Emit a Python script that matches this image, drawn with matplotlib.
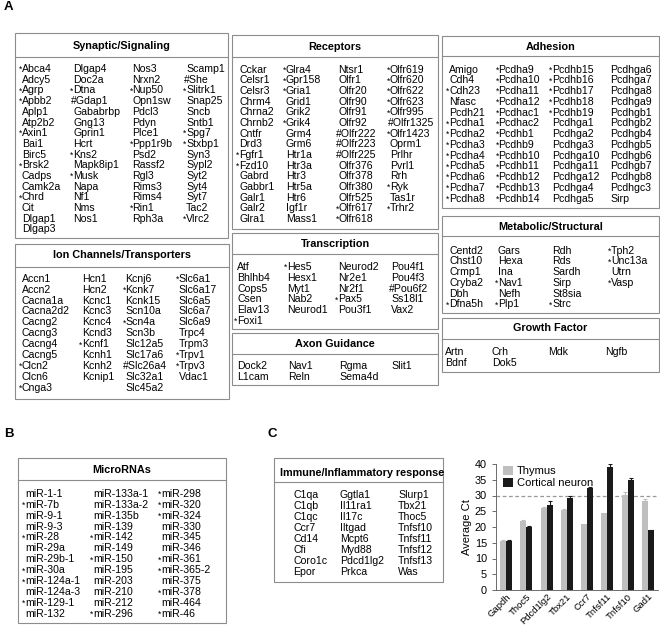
import matplotlib
matplotlib.use("Agg")
import matplotlib.pyplot as plt
from matplotlib.patches import Rectangle, Patch
import numpy as np

plt.rcParams['font.family'] = ['Liberation Sans', 'DejaVu Sans']

# ====================== DATA ======================
synaptic_cols = [
    ['*Abca4', 'Adcy5', '*Agrp', '*Apbb2', 'Aplp1', 'Atp2b2', '*Axin1', 'Bai1', 'Birc5',
     '*Brsk2', 'Cadps', 'Camk2a', '*Chrd', 'Cit', 'Dlgap1', 'Dlgap3'],
    ['Dlgap4', 'Doc2a', '*Dtna', '#Gdap1', 'Gababrbp', 'Gng13', 'Gprin1', 'Hcrt', '*Kns2',
     'Mapk8ip1', '*Musk', 'Napa', 'Nf1', 'Nms', 'Nos1'],
    ['Nos3', 'Nrxn2', '*Nup50', 'Opn1sw', 'Pdcl3', 'Pdyn', 'Plce1', '*Ppp1r9b', 'Psd2',
     'Rassf2', 'Rgl3', 'Rims3', 'Rims4', '*Rin1', 'Rph3a'],
    ['Scamp1', '#She', '*Slitrk1', 'Snap25', 'Sncb', 'Sntb1', '*Spg7', '*Stxbp1', 'Syn3',
     'Sypl2', 'Syt2', 'Syt4', 'Syt7', 'Tac2', '*Vlrc2'],
]
receptor_cols = [
    ['Cckar', 'Celsr1', 'Celsr3', 'Chrm4', 'Chrna2', 'Chrnb2', 'Cntfr', 'Drd3', '*Fgfr1',
     '*Fzd10', 'Gabrd', 'Gabbr1', 'Galr1', 'Galr2', 'Glra1'],
    ['*Glra4', '*Gpr158', '*Gria1', 'Grid1', 'Grik2', '*Grik4', 'Grm4', 'Grm6', 'Htr1a',
     'Htr3a', 'Htr3', 'Htr5a', 'Htr6', 'Igf1r', 'Mass1'],
    ['Ntsr1', 'Olfr1', 'Olfr20', 'Olfr90', 'Olfr91', 'Olfr92', '#Olfr222', '#Olfr223',
     '#Olfr225', 'Olfr376', 'Olfr378', 'Olfr380', 'Olfr525', '*Olfr617', '*Olfr618'],
    ['*Olfr619', '*Olfr620', '*Olfr622', '*Olfr623', '*Olfr995', '#Olfr1325', '*Olfr1423',
     'Oprm1', 'Prlhr', 'Pvrl1', 'Rrh', '*Ryk', 'Tas1r', '*Trhr2'],
]
adhesion_cols = [
    ['Amigo', 'Cdh4', '*Cdh23', 'Nfasc', 'Pcdh21', '*Pcdha1', '*Pcdha2', '*Pcdha3',
     '*Pcdha4', '*Pcdha5', '*Pcdha6', '*Pcdha7', '*Pcdha8'],
    ['*Pcdha9', '*Pcdha10', '*Pcdha11', '*Pcdha12', '*Pcdhac1', '*Pcdhac2', '*Pcdhb1',
     '*Pcdhb9', '*Pcdhb10', '*Pcdhb11', '*Pcdhb12', '*Pcdhb13', '*Pcdhb14'],
    ['*Pcdhb15', '*Pcdhb16', '*Pcdhb17', '*Pcdhb18', '*Pcdhb19', 'Pcdhga1', 'Pcdhga2',
     'Pcdhga3', 'Pcdhga10', 'Pcdhga11', 'Pcdhga12', 'Pcdhga4', 'Pcdhga5'],
    ['Pcdhga6', 'Pcdhga7', 'Pcdhga8', 'Pcdhga9', 'Pcdhgb1', 'Pcdhgb2', 'Pcdhgb4',
     'Pcdhgb5', 'Pcdhgb6', 'Pcdhgb7', 'Pcdhgb8', 'Pcdhgc3', 'Sirp'],
]
ion_cols = [
    ['Accn1', 'Accn2', 'Cacna1a', 'Cacna2d2', 'Cacng2', 'Cacng3', 'Cacng4', 'Cacng5',
     '*Clcn2', 'Clcn6', '*Cnga3'],
    ['Hcn1', 'Hcn2', 'Kcnc1', 'Kcnc3', 'Kcnc4', 'Kcnd3', '*Kcnf1', 'Kcnh1', 'Kcnh2', 'Kcnip1'],
    ['Kcnj6', '*Kcnk7', 'Kcnk15', 'Scn10a', '*Scn4a', 'Scn3b', 'Slc12a5', 'Slc17a6',
     '#Slc26a4', 'Slc32a1', 'Slc45a2'],
    ['*Slc6a1', 'Slc6a17', 'Slc6a5', 'Slc6a7', 'Slc6a9', 'Trpc4', 'Trpm3', '*Trpv1',
     '*Trpv3', 'Vdac1'],
]
transcription_cols = [
    ['Atf', 'Bhlhb4', 'Cops5', 'Csen', 'Elav13', '*Foxi1'],
    ['*Hes5', 'Hesx1', 'Myt1', 'Nab2', 'Neurod1'],
    ['Neurod2', 'Nr2e1', 'Nr2f1', '*Pax5', 'Pou3f1'],
    ['Pou4f1', 'Pou4f3', '#Pou6f2', 'Ss18l1', 'Vax2'],
]
axon_cols = [['Dock2', 'L1cam'], ['Nav1', 'Reln'], ['Rgma', 'Sema4d'], ['Slit1']]
metabolic_cols = [
    ['Centd2', 'Chst10', 'Crmp1', 'Cryba2', 'Dbh', '*Dfna5h'],
    ['Gars', 'Hexa', 'Ina', '*Nav1', 'Nefh', '*Plp1'],
    ['Rdh', 'Rds', 'Sardh', 'Sirp', 'St8sia', '*Strc'],
    ['*Tph2', '*Unc13a', 'Utrn', '*Vasp'],
]
growth_cols = [['Artn', 'Bdnf'], ['Crh', 'Dok5'], ['Mdk'], ['Ngfb']]
mirna_cols = [
    ['miR-1-1', '*miR-7b', 'miR-9-1', 'miR-9-3', '*miR-28', 'miR-29a', 'miR-29b-1',
     '*miR-30a', '*miR-124a-1', 'miR-124a-3', '*miR-129-1', 'miR-132'],
    ['miR-133a-1', 'miR-133a-2', 'miR-135b', 'miR-139', '*miR-142', 'miR-149', '*miR-150',
     'miR-195', 'miR-203', 'miR-210', 'miR-212', '*miR-296'],
    ['*miR-298', '*miR-320', '*miR-324', 'miR-330', 'miR-345', 'miR-346', '*miR-361',
     '*miR-365-2', 'miR-375', '*miR-378', 'miR-464', '*miR-46'],
]
immune_cols = [
    ['C1qa', 'C1qb', 'C1qc', 'Ccr7', 'Cd14', 'Cfi', 'Coro1c', 'Epor'],
    ['Ggtla1', 'Il11ra1', 'Il17c', 'Iltgad', 'Mcpt6', 'Myd88', 'Pdcd1lg2', 'Prkca'],
    ['Slurp1', 'Tbx21', 'Thoc5', 'Tnfsf10', 'Tnfsf11', 'Tnfsf12', 'Tnfsf13', 'Was'],
]

genes = ['Gapdh', 'Thoc5', 'Pdcd1lg2', 'Tbx21', 'Ccr7', 'Tnfsf11', 'Tnfsf10', 'Gad1']
thymus_ct = [15.7, 21.9, 25.9, 25.5, 20.8, 24.3, 30.1, 28.4]
thymus_err = [0.2, 0.3, 0.3, 0.3, 0.2, 0.2, 0.9, 0.4]
neuron_ct = [15.6, 20.1, 27.1, 29.3, 32.4, 39.2, 34.8, 19.0]
neuron_err = [0.2, 0.2, 1.0, 0.4, 0.2, 0.7, 0.9, 0.2]

# ====================== LAYOUT ======================
BOX_EDGE = '#8c8c8c'
FS = 7.6
FS_TITLE = 7.8

fig = plt.figure(figsize=(6.6, 6.25), dpi=100)
ax = fig.add_axes([0, 0, 1, 1])
ax.set_xlim(0, 660)
ax.set_ylim(625, 0)
ax.axis('off')


def draw_box(x0, y0, x1, y1, title, title_y, sep_y, columns, col_x, row0, step, title_x=None):
    ax.add_patch(Rectangle((x0, y0), x1 - x0, y1 - y0, fill=False,
                           edgecolor=BOX_EDGE, lw=0.8))
    ax.plot([x0, x1], [sep_y, sep_y], color=BOX_EDGE, lw=0.8)
    tx = (x0 + x1) / 2 if title_x is None else title_x
    ax.text(tx, title_y + 3.8, title, ha='center', va='baseline',
            fontsize=FS_TITLE, fontweight='bold')
    for names, x in zip(columns, col_x):
        for i, name in enumerate(names):
            y = row0 + i * step + 3.7   # baseline
            if name.startswith('*'):
                ax.text(x + 0.4, y, '*', ha='right', va='baseline', fontsize=6.2)
                ax.text(x, y, name[1:], ha='left', va='baseline', fontsize=FS)
            elif name.startswith('#'):
                ax.text(x - 2.5, y, name, ha='left', va='baseline', fontsize=FS)
            else:
                ax.text(x, y, name, ha='left', va='baseline', fontsize=FS)


# Panel A
draw_box(15, 33, 228, 238, 'Synaptic/Signaling', 45, 57, synaptic_cols,
         [22, 73, 132.5, 186], 68.3, 10.7)
draw_box(15, 244, 229, 399, 'Ion Channels/Transporters', 254, 266.5, ion_cols,
         [22, 82, 125.5, 178.5], 278, 10.93)
draw_box(232, 35, 438, 229, 'Receptors', 46, 56.5, receptor_cols,
         [239, 286, 338.3, 390], 69, 10.67)
draw_box(232, 233, 438, 329, 'Transcription', 243, 254, transcription_cols,
         [237, 287, 338, 391], 266.5, 10.7)
draw_box(232, 333, 438, 385, 'Axon Guidance', 343, 354, axon_cols,
         [237, 288, 339, 391], 365, 11)
draw_box(442, 36, 659, 208, 'Adhesion', 46, 56, adhesion_cols,
         [449, 498.3, 552, 610], 69, 10.75)
draw_box(442, 216, 659, 313, 'Metabolic/Structural', 226, 236, metabolic_cols,
         [449, 498, 552, 611], 250, 10.75)
draw_box(442, 318, 659, 372, 'Growth Factor', 327.5, 339, growth_cols,
         [445, 492, 548, 605], 351, 11)

# Panel B
draw_box(18, 458, 226, 623, 'MicroRNAs', 469, 480, mirna_cols,
         [25, 93, 161], 493, 10.95)

# Panel C table
draw_box(274, 458, 443, 582, 'Immune/Inflammatory response', 472, 482, immune_cols,
         [293, 340, 398], 494.5, 10.95, title_x=362)

for lab, lx, ly in [('A', 4, 7), ('B', 4, 434), ('C', 268, 434)]:
    ax.text(lx, ly, lab, ha='left', va='center', fontsize=9.5, fontweight='bold')

# ====================== BAR CHART ======================
bx = fig.add_axes([496 / 660, 1 - 590 / 625, 162 / 660, 126 / 625])
x = np.arange(len(genes))
w = 0.3
bx.bar(x - w / 2, thymus_ct, w, color='#bfbfbf', yerr=thymus_err,
       error_kw=dict(ecolor='#bfbfbf', capsize=1.5, elinewidth=0.8, capthick=0.8),
       label='Thymus')
bx.bar(x + w / 2, neuron_ct, w, color='#1a1a1a', yerr=neuron_err,
       error_kw=dict(ecolor='#1a1a1a', capsize=1.5, elinewidth=0.8, capthick=0.8),
       label='Cortical neuron')
bx.axhline(30, color='#999999', linestyle=(0, (3, 2)), lw=0.9, zorder=0)

bx.set_xlim(-0.5, 7.5)
bx.set_ylim(0, 40)
bx.set_yticks(np.arange(0, 41, 5))
bx.set_xticks(x)
bx.set_xticklabels(genes, rotation=45, ha='right', rotation_mode='anchor', fontsize=6.8)
bx.tick_params(axis='y', labelsize=7.8, length=3, width=0.6, color='#555555')
bx.tick_params(axis='x', length=0, pad=1.5)
for s in ['top', 'right']:
    bx.spines[s].set_visible(False)
for s in ['left', 'bottom']:
    bx.spines[s].set_linewidth(0.6)
    bx.spines[s].set_color('#555555')
bx.set_ylabel('Average Ct', fontsize=8, labelpad=2)

handles = [Patch(facecolor='#bfbfbf', label='Thymus'),
           Patch(facecolor='#1a1a1a', label='Cortical neuron')]
bx.legend(handles=handles, loc='upper left', bbox_to_anchor=(0.0, 1.04), frameon=False,
          fontsize=8, handlelength=0.9, handleheight=0.9, handletextpad=0.4,
          labelspacing=0.15, borderaxespad=0.2)

fig.savefig('out.png', dpi=100)
